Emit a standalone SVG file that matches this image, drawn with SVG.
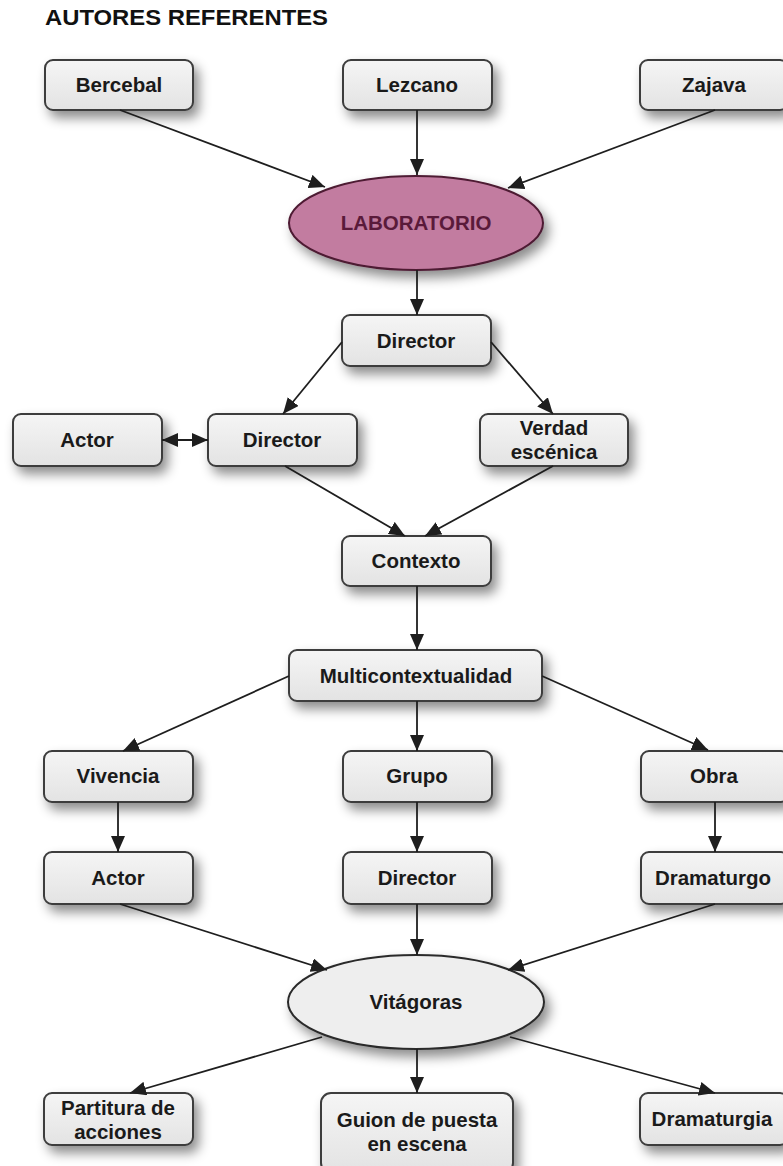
<svg xmlns="http://www.w3.org/2000/svg" width="783" height="1166" viewBox="0 0 783 1166">
<defs>
<linearGradient id="gb" x1="0" y1="0" x2="0" y2="1"><stop offset="0" stop-color="#f5f5f5"/><stop offset="1" stop-color="#e3e3e3"/></linearGradient>
<filter id="sh" x="-30%" y="-30%" width="170%" height="190%"><feDropShadow dx="5" dy="7" stdDeviation="6" flood-color="#000" flood-opacity="0.45"/></filter>
<marker id="ah" viewBox="0 0 16 14" refX="16" refY="7" markerWidth="16" markerHeight="14" markerUnits="userSpaceOnUse" orient="auto-start-reverse"><path d="M0,0 L16,7 L0,14 z" fill="#1e1e1e"/></marker>
</defs>
<style>
.box{fill:url(#gb);stroke:#3c3c3c;stroke-width:2;filter:url(#sh)}
.t{font-family:"Liberation Sans",Arial,sans-serif;font-weight:bold;font-size:20.5px;fill:#1a1a1a;text-anchor:middle}
.c line{stroke:#1e1e1e;stroke-width:1.8;marker-end:url(#ah)}
</style>
<rect width="783" height="1166" fill="#fff"/>
<text x="45" y="25" textLength="283" lengthAdjust="spacingAndGlyphs" style="font-family:'Liberation Sans',Arial,sans-serif;font-weight:bold;font-size:22px;fill:#111">AUTORES REFERENTES</text>

<g id="bercebal"><rect class="box" x="45" y="60" width="148" height="50" rx="8"/><text class="t" x="119" y="92">Bercebal</text></g>
<g id="lezcano"><rect class="box" x="343" y="60" width="149" height="50" rx="8"/><text class="t" x="417" y="92">Lezcano</text></g>
<g id="zajava"><rect class="box" x="640" y="60" width="148" height="50" rx="8"/><text class="t" x="714" y="92">Zajava</text></g>

<g id="laboratorio"><ellipse cx="416" cy="223" rx="127" ry="47" fill="#c27ba0" stroke="#4d1a33" stroke-width="2" filter="url(#sh)"/><text class="t" x="416" y="230" style="fill:#5a1a3a">LABORATORIO</text></g>

<g id="director1"><rect class="box" x="342" y="315" width="149" height="51" rx="8"/><text class="t" x="416" y="348">Director</text></g>
<g id="actor1"><rect class="box" x="13" y="414" width="149" height="52" rx="8"/><text class="t" x="87" y="447">Actor</text></g>
<g id="director2"><rect class="box" x="208" y="414" width="149" height="52" rx="8"/><text class="t" x="282" y="447">Director</text></g>
<g id="verdad"><rect class="box" x="480" y="414" width="148" height="52" rx="8"/><text class="t" x="554" y="435">Verdad</text><text class="t" x="554" y="459">escénica</text></g>

<g id="contexto"><rect class="box" x="342" y="536" width="149" height="50" rx="8"/><text class="t" x="416" y="568">Contexto</text></g>
<g id="multi"><rect class="box" x="289" y="650" width="253" height="51" rx="8"/><text class="t" x="416" y="683">Multicontextualidad</text></g>

<g id="vivencia"><rect class="box" x="44" y="751" width="149" height="51" rx="8"/><text class="t" x="118" y="783">Vivencia</text></g>
<g id="grupo"><rect class="box" x="343" y="751" width="149" height="51" rx="8"/><text class="t" x="417" y="783">Grupo</text></g>
<g id="obra"><rect class="box" x="641" y="751" width="148" height="51" rx="8"/><text class="t" x="714" y="783">Obra</text></g>

<g id="actor2"><rect class="box" x="44" y="852" width="149" height="52" rx="8"/><text class="t" x="118" y="885">Actor</text></g>
<g id="director3"><rect class="box" x="343" y="852" width="149" height="52" rx="8"/><text class="t" x="417" y="885">Director</text></g>
<g id="dramaturgo"><rect class="box" x="641" y="852" width="148" height="52" rx="8"/><text class="t" x="713" y="885">Dramaturgo</text></g>

<g id="vitagoras"><ellipse cx="416" cy="1002" rx="128" ry="47" fill="#eeeeee" stroke="#2a2a2a" stroke-width="2" filter="url(#sh)"/><text class="t" x="416" y="1009">Vitágoras</text></g>

<g id="partitura"><rect class="box" x="44" y="1093" width="149" height="52" rx="8"/><text class="t" x="118" y="1115">Partitura de</text><text class="t" x="118" y="1139">acciones</text></g>
<g id="guion"><rect class="box" x="321" y="1093" width="192" height="80" rx="10"/><text class="t" x="417" y="1127">Guion de puesta</text><text class="t" x="417" y="1151">en escena</text></g>
<g id="dramaturgia"><rect class="box" x="640" y="1093" width="148" height="52" rx="8"/><text class="t" x="712" y="1126">Dramaturgia</text></g>

<g id="connectors" class="c">
<line x1="120" y1="110" x2="325" y2="187"/>
<line x1="417" y1="110" x2="417" y2="175"/>
<line x1="715" y1="110" x2="508" y2="188"/>
<line x1="417" y1="270" x2="417" y2="315"/>
<line x1="342" y1="342" x2="283" y2="414"/>
<line x1="491" y1="342" x2="553" y2="414"/>
<line x1="162" y1="440" x2="208" y2="440" style="marker-start:url(#ah)"/>
<line x1="285" y1="466" x2="405" y2="536"/>
<line x1="553" y1="466" x2="425" y2="536"/>
<line x1="417" y1="586" x2="417" y2="650"/>
<line x1="289" y1="676" x2="123" y2="751"/>
<line x1="417" y1="701" x2="417" y2="751"/>
<line x1="542" y1="676" x2="708" y2="750"/>
<line x1="118" y1="802" x2="118" y2="852"/>
<line x1="417" y1="802" x2="417" y2="852"/>
<line x1="715" y1="802" x2="715" y2="852"/>
<line x1="120" y1="904" x2="327" y2="970"/>
<line x1="417" y1="904" x2="417" y2="955"/>
<line x1="715" y1="904" x2="508" y2="970"/>
<line x1="322" y1="1037" x2="130" y2="1093"/>
<line x1="417" y1="1049" x2="417" y2="1093"/>
<line x1="510" y1="1037" x2="715" y2="1093"/>
</g>
</svg>
